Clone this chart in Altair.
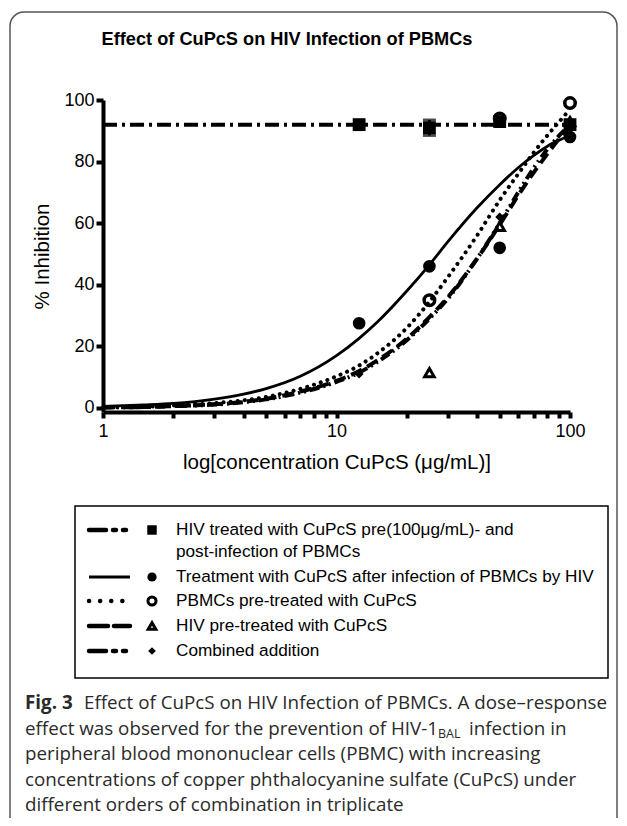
import altair as alt
import pandas as pd

# ---------------- data ----------------
conc_fit = [1, 1.5, 2, 3, 4, 5, 7, 10, 12.5, 15, 20, 25, 30, 40, 50, 60, 70, 80, 90, 100]
fit_after = [0.5, 1.0, 1.5, 2.9, 4.5, 6.3, 10.3, 17, 22.6, 28, 38, 46.5, 54, 65, 72.5, 78, 82, 85, 87, 88.5]
fit_pbmc_pre = [0.2, 0.4, 0.8, 1.6, 2.5, 3.6, 6.2, 10.3, 13.8, 17.8, 26, 34.5, 42.5, 56, 67.5, 76, 83, 88.5, 93, 97]
fit_hiv_pre = [0.2, 0.3, 0.6, 1.2, 2, 3, 5.3, 8.8, 12, 15.5, 22.5, 29.5, 36, 48.5, 59.5, 69, 76.5, 82.5, 87.5, 91.5]
fit_combined = [0.2, 0.3, 0.6, 1.1, 1.9, 2.8, 5.0, 8.5, 11.5, 15, 22, 29, 35.5, 48.5, 60, 70, 78, 84, 88.5, 92]
conc_flat = [1, 100]
fit_prepost = [92, 92]

sq_x = [12.5, 25, 50, 100]
sq_y = [92, 91, 93, 92]
err_x = [25]
err_lo = [88.5]
err_hi = [93.5]
fc_x = [12.5, 25, 50, 100]
fc_y = [27.5, 46, 52, 88]
oc_x = [25, 50, 100]
oc_y = [35, 94, 99]
tri_x = [25, 50, 100]
tri_y = [11.5, 59, 93]
dia_x = [12.5, 50, 100]
dia_y = [11, 62, 92]

x_ticks = [1, 2, 3, 4, 5, 6, 7, 8, 9, 10, 20, 30, 40, 50, 60, 70, 80, 90, 100]
y_ticks = [0, 20, 40, 60, 80, 100]

title_text = "Effect of CuPcS on HIV Infection of PBMCs"
x_title = "log[concentration CuPcS (\u03bcg/mL)]"
y_title = "% Inhibition"
legend_labels = [
    "HIV treated with CuPcS pre(100\u03bcg/mL)- and",
    "post-infection of PBMCs",
    "Treatment with CuPcS after infection of PBMCs by HIV",
    "PBMCs pre-treated with CuPcS",
    "HIV pre-treated with CuPcS",
    "Combined addition",
]
caption_bold = "Fig. 3"
caption_lines = [
    "Effect of CuPcS on HIV Infection of PBMCs. A dose\u2013response",
    "effect was observed for the prevention of HIV-1",
    "peripheral blood mononuclear cells (PBMC) with increasing",
    "concentrations of copper phthalocyanine sulfate (CuPcS) under",
    "different orders of combination in triplicate",
]
caption_sub = "BAL"
caption_tail = "infection in"

# ---------------- layout ----------------
W, H = 467, 312
AX = "Liberation Sans"
CAP = "Open Sans"
CAPS = 18.8
CAPC = "#2a2a2a"

xscale = alt.Scale(type="log", domain=[1, 100], nice=False)
yscale = alt.Scale(domain=[-1.3, 100], nice=False, zero=False)
xaxis = alt.Axis(values=x_ticks, labelExpr="indexof([1,10,100], datum.value) >= 0 ? datum.label : ''",
                 title=x_title, titleFontSize=20.5, titleFontWeight="normal", titleFont=AX, titlePadding=12,
                 labelFont=AX, labelFontSize=18, labelColor="black", labelPadding=4,
                 domainWidth=4, domainColor="black", tickWidth=4, tickColor="black", tickSize=6,
                 grid=False, labelFlush=False, labelOverlap=False)
yaxis = alt.Axis(values=y_ticks, title=y_title, titleFontSize=20.5, titleFontWeight="normal", titleFont=AX,
                 titlePadding=11, labelFont=AX, labelFontSize=18, labelColor="black", labelPadding=2,
                 domainWidth=4, domainColor="black", tickWidth=4, tickColor="black", tickSize=7,
                 grid=False, labelFlush=False)


def X(f="c"):
    return alt.X(f"{f}:Q", scale=xscale, axis=xaxis)


def Y(f="v"):
    return alt.Y(f"{f}:Q", scale=yscale, axis=yaxis)


def df(xs, ys):
    return pd.DataFrame({"c": xs, "v": ys})


layers = []
# fitted curves
layers.append(alt.Chart(df(conc_flat, fit_prepost)).mark_line(color="black", strokeWidth=4, strokeDash=[14, 5, 3, 5])
              .encode(x=X(), y=Y()))
layers.append(alt.Chart(df(conc_fit, fit_after)).mark_line(color="black", strokeWidth=2.8, interpolate="monotone")
              .encode(x=X(), y=Y()))
layers.append(alt.Chart(df(conc_fit, fit_pbmc_pre)).mark_line(color="black", strokeWidth=4, strokeDash=[0.1, 7],
                                                               strokeCap="round", interpolate="monotone")
              .encode(x=X(), y=Y()))
layers.append(alt.Chart(df(conc_fit, fit_hiv_pre)).mark_line(color="black", strokeWidth=4, strokeDash=[12, 6],
                                                              interpolate="monotone")
              .encode(x=X(), y=Y()))
layers.append(alt.Chart(df(conc_fit, fit_combined)).mark_line(color="black", strokeWidth=4,
                                                               strokeDash=[10, 4, 2, 4, 2, 4], interpolate="monotone")
              .encode(x=X(), y=Y()))
# error bar
err_df = pd.DataFrame({"c": err_x, "lo": err_lo, "hi": err_hi})
layers.append(alt.Chart(err_df).mark_rule(color="black", strokeWidth=3).encode(x=X(), y=Y("lo"), y2="hi"))
layers.append(alt.Chart(err_df).mark_tick(color="black", thickness=3, size=13, orient="horizontal")
              .encode(x=X(), y=Y("lo")))
layers.append(alt.Chart(err_df).mark_tick(color="black", thickness=3, size=13, orient="horizontal")
              .encode(x=X(), y=Y("hi")))
# points
layers.append(alt.Chart(df(sq_x, sq_y)).mark_point(shape="square", filled=True, size=165, color="black", opacity=1)
              .encode(x=X(), y=Y()))
layers.append(alt.Chart(df(fc_x, fc_y)).mark_point(shape="circle", filled=True, size=160, color="black", opacity=1)
              .encode(x=X(), y=Y()))
layers.append(alt.Chart(df(oc_x, oc_y)).mark_point(shape="circle", filled=False, size=110, color="black",
                                                    strokeWidth=3.5, opacity=1)
              .encode(x=X(), y=Y()))
layers.append(alt.Chart(df(tri_x, tri_y)).mark_point(shape="triangle-up", filled=False, size=90, color="black",
                                                      strokeWidth=3, opacity=1)
              .encode(x=X(), y=Y()))
layers.append(alt.Chart(df(dia_x, dia_y)).mark_point(shape="diamond", filled=True, size=80, color="black", opacity=1)
              .encode(x=X(), y=Y()))

one = pd.DataFrame({"k": [0]})


def txt(text, x, y, size, font=AX, weight="normal", align="left", color="black", baseline="middle"):
    return alt.Chart(one).mark_text(text=text, font=font, fontSize=size, fontWeight=weight, align=align,
                                    baseline=baseline, color=color).encode(x=alt.value(x), y=alt.value(y))


# outer frame
layers.append(alt.Chart(one).mark_rect(fill="transparent", stroke="#555555", strokeWidth=1.5, cornerRadius=14)
              .encode(x=alt.value(-93), x2=alt.value(514), y=alt.value(-88), y2=alt.value(760)))
# title
layers.append(txt(title_text, 184, -60, 18.2, weight="bold", align="center"))

# legend box
layers.append(alt.Chart(one).mark_rect(fill="transparent", stroke="black", strokeWidth=1.5)
              .encode(x=alt.value(-28), x2=alt.value(505), y=alt.value(406), y2=alt.value(578)))
rows = [430, 477, 501, 526, 551]
dashes = [[17, 7, 3, 7, 3, 30], None, [0.1, 11], [19, 6], [17, 7, 3, 7, 3, 30]]
shapes = [("square", True, 90), ("circle", True, 85), ("circle", False, 65), ("triangle-up", False, 60),
          ("diamond", True, 60)]
for r, d, (shp, fill, sz) in zip(rows, dashes, shapes):
    kw = dict(color="black", strokeWidth=4.5)
    if d is not None:
        kw["strokeDash"] = d
        kw["strokeCap"] = "round"
    else:
        kw["strokeWidth"] = 3
    layers.append(alt.Chart(one).mark_rule(**kw).encode(x=alt.value(-14), x2=alt.value(27), y=alt.value(r)))
    layers.append(alt.Chart(one).mark_point(shape=shp, filled=fill, size=sz, color="black", opacity=1,
                                            strokeWidth=3).encode(x=alt.value(49), y=alt.value(r)))
label_rows = [430, 452, 477, 501, 526, 551]
for lab, r in zip(legend_labels, label_rows):
    layers.append(txt(lab, 73, r, 17.2))

# caption
cap_rows = [603, 628.5, 654, 679.5, 705]
layers.append(txt(caption_bold, -78, cap_rows[0], CAPS, font=CAP, weight="bold", color=CAPC))
layers.append(txt(caption_lines[0], -19, cap_rows[0], CAPS, font=CAP, color=CAPC))
for line, r in zip(caption_lines[1:], cap_rows[1:]):
    layers.append(txt(line, -78, r, CAPS, font=CAP, color=CAPC))
layers.append(txt(caption_sub, 335, cap_rows[1] + 5, 12.5, font=CAP, color=CAPC))
layers.append(txt(caption_tail, 366, cap_rows[1], CAPS, font=CAP, color=CAPC))

chart = alt.layer(*layers).properties(
    width=W, height=H,
    autosize=alt.AutoSizeParams(type="none"),
    padding={"left": 95, "top": 92, "right": 49, "bottom": 406},
).configure_view(stroke=None)

chart.save("out.html", embed_options={"renderer": "svg", "actions": False})
